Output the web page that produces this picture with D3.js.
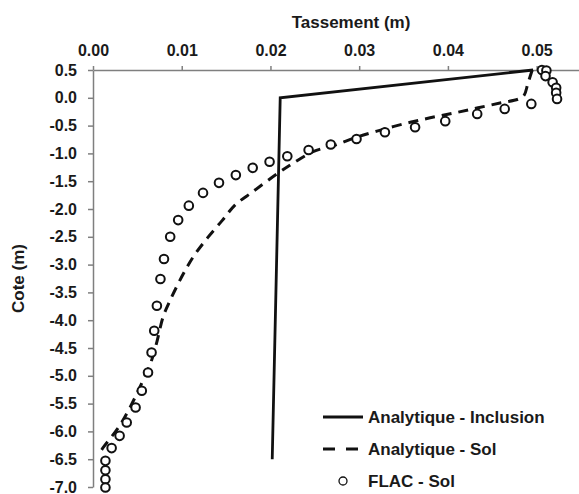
<!DOCTYPE html>
<html>
<head>
<meta charset="utf-8">
<script src="https://cdn.jsdelivr.net/npm/d3@7"></script>
<style>
  body { margin: 0; background: #fff; }
  svg { display: block; font-family: "Liberation Sans", Arial, sans-serif; }
  .axis path, .axis line { stroke: #7f7f7f; stroke-width: 1.5; }
  .axis text { font-size: 16px; font-weight: bold; fill: #1a1a1a; }
  .label { font-size: 17px; font-weight: bold; fill: #1a1a1a; }
  .legend text { font-size: 17px; font-weight: bold; fill: #1a1a1a; }
</style>
</head>
<body>
<svg width="579" height="494"></svg>
<script>
// Tick values
const xTicks = [0.00, 0.01, 0.02, 0.03, 0.04, 0.05];
const yTicks = [0.5, 0.0, -0.5, -1.0, -1.5, -2.0, -2.5, -3.0, -3.5, -4.0, -4.5, -5.0, -5.5, -6.0, -6.5, -7.0];

// Analytique - Inclusion (settlement, elevation)
const inclusionX = [0.0496, 0.0211, 0.0202];
const inclusionY = [0.5, 0.0, -6.5];

// Analytique - Sol
const solX = [0.0495, 0.0490, 0.0486, 0.0480, 0.0460, 0.0434, 0.0408, 0.0380, 0.0350, 0.0320, 0.0295, 0.0275, 0.0248, 0.0226, 0.0209,
              0.0180, 0.0160, 0.0146, 0.0129, 0.0113, 0.0100, 0.0087, 0.0079, 0.0072, 0.0065, 0.0055, 0.0042, 0.0029, 0.0012, 0.0008];
const solY = [0.5, 0.25, 0.05, -0.02, -0.09, -0.18, -0.27, -0.36, -0.47, -0.60, -0.72, -0.84, -0.97, -1.17, -1.35,
              -1.69, -1.93, -2.20, -2.52, -2.86, -3.22, -3.64, -3.94, -4.39, -4.77, -5.13, -5.56, -5.92, -6.28, -6.37];

// FLAC - Sol
const flacX = [0.0506, 0.0511, 0.0510, 0.0518, 0.0522, 0.0522, 0.0523, 0.0494, 0.0464, 0.0433, 0.0397, 0.0363, 0.0329, 0.0297,
               0.0268, 0.0243, 0.0219, 0.0199, 0.0180, 0.0161, 0.0142, 0.0124, 0.0108, 0.0096, 0.0087, 0.0080, 0.0076, 0.0072,
               0.0069, 0.0066, 0.0062, 0.0055, 0.0048, 0.0038, 0.0030, 0.0021, 0.0014, 0.0014, 0.0014, 0.0014];
const flacY = [0.50, 0.49, 0.39, 0.28, 0.18, 0.09, -0.02, -0.11, -0.20, -0.29, -0.42, -0.53, -0.62, -0.74,
               -0.84, -0.94, -1.05, -1.15, -1.26, -1.39, -1.53, -1.71, -1.94, -2.20, -2.50, -2.90, -3.26, -3.74,
               -4.19, -4.58, -4.94, -5.27, -5.57, -5.84, -6.08, -6.30, -6.53, -6.70, -6.86, -7.01];

const legendItems = ["Analytique - Inclusion", "Analytique - Sol", "FLAC - Sol"];

var svg = d3.select("svg");

var xScale = d3.scaleLinear().domain([0, 0.055]).range([93, 581]);
var yScale = d3.scaleLinear().domain([0.5, -7.0]).range([70, 487]);

// x-axis on top
svg.append("g")
  .attr("class", "axis axis--x")
  .attr("transform", `translate(0, ${yScale(0.5)})`)
  .call(d3.axisTop(xScale).tickValues(xTicks).tickFormat(d3.format(".2f"))
    .tickSize(4).tickSizeOuter(0).tickPadding(10));

// y-axis
svg.append("g")
  .attr("class", "axis axis--y")
  .attr("transform", `translate(${xScale(0)}, 0)`)
  .call(d3.axisLeft(yScale).tickValues(yTicks).tickFormat(d3.format(".1f"))
    .tickSize(5).tickSizeOuter(0).tickPadding(11));

svg.selectAll(".axis text").text(function() { return this.textContent.replace("−", "-"); });

// axis titles
svg.append("text")
  .attr("class", "label")
  .attr("x", 351)
  .attr("y", 28)
  .attr("text-anchor", "middle")
  .text("Tassement (m)");

svg.append("text")
  .attr("class", "label")
  .attr("transform", `translate(24, ${(yScale.range()[0] + yScale.range()[1]) / 2}) rotate(-90)`)
  .attr("text-anchor", "middle")
  .text("Cote (m)");

// lines
var solidLine = d3.line()
  .x((d, i) => xScale(inclusionX[i]))
  .y((d, i) => yScale(inclusionY[i]));

svg.append("path")
  .datum(inclusionX)
  .attr("fill", "none")
  .attr("stroke", "#111")
  .attr("stroke-width", 2.8)
  .attr("d", solidLine);

var solLine = d3.line()
  .x((d, i) => xScale(solX[i]))
  .y((d, i) => yScale(solY[i]))
  .curve(d3.curveCatmullRom);

svg.append("path")
  .datum(solX)
  .attr("fill", "none")
  .attr("stroke", "#111")
  .attr("stroke-width", 3)
  .attr("stroke-dasharray", "10,7")
  .attr("d", solLine);

// FLAC points
svg.selectAll(".dot")
  .data(flacX)
  .enter()
  .append("circle")
  .attr("class", "dot")
  .attr("cx", d => xScale(d))
  .attr("cy", (d, i) => yScale(flacY[i]))
  .attr("r", 4.3)
  .attr("fill", "#fff")
  .attr("stroke", "#111")
  .attr("stroke-width", 2);

// legend
var legend = svg.append("g").attr("class", "legend");
var ly = [417, 449, 481];

legend.append("line")
  .attr("x1", 323).attr("x2", 363).attr("y1", ly[0]).attr("y2", ly[0])
  .attr("stroke", "#111").attr("stroke-width", 2.8);
legend.append("line")
  .attr("x1", 323).attr("x2", 363).attr("y1", ly[1]).attr("y2", ly[1])
  .attr("stroke", "#111").attr("stroke-width", 3).attr("stroke-dasharray", "12,11");
legend.append("circle")
  .attr("cx", 343).attr("cy", ly[2]).attr("r", 4)
  .attr("fill", "#fff").attr("stroke", "#111").attr("stroke-width", 1.3);

legend.selectAll("text")
  .data(legendItems)
  .enter()
  .append("text")
  .attr("x", 368)
  .attr("y", (d, i) => ly[i])
  .attr("dy", "0.35em")
  .text(d => d);
</script>
</body>
</html>
